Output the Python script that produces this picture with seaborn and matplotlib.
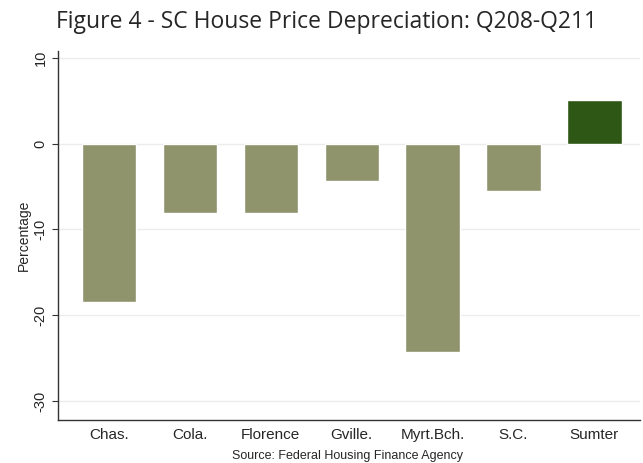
import matplotlib
matplotlib.use('Agg')
import matplotlib.pyplot as plt
import seaborn as sns
import pandas as pd

# data
areas = ['Chas.', 'Cola.', 'Florence', 'Gville.', 'Myrt.Bch.', 'S.C.', 'Sumter']
change = [-18.4, -8.1, -8.1, -4.4, -24.3, -5.5, 5.1]

df = pd.DataFrame({'area': areas, 'change': change})
colors = ['#8f946c'] * 6 + ['#2e5614']

sns.set_style('white')
plt.rcParams['font.family'] = ['Open Sans', 'DejaVu Sans']

fig = plt.figure(figsize=(6.43, 4.63), dpi=100)
ax = fig.add_axes([0.090, 0.093, 0.905, 0.797])
sns.barplot(x='area', y='change', data=df, hue='area', palette=colors,
            legend=False, width=0.67, saturation=1, ax=ax)

ax.set_ylim(-32.2, 10.8)
ax.set_xlim(-0.63, 6.56)
ax.set_yticks([10, 0, -10, -20, -30])
ax.set_yticklabels(['10', '0', '-10', '-20', '-30'], rotation=90, va='center',
                   fontsize=10.5, family='Liberation Sans')
ax.tick_params(axis='y', length=4, width=0.8, color='#333333', left=True)
ax.tick_params(axis='x', length=0, labelsize=11, pad=6)
for lab in ax.get_xticklabels():
    lab.set_family('Liberation Sans')
ax.yaxis.grid(True, color='#ececec', linewidth=1)
ax.set_axisbelow(True)
for s in ['top', 'right']:
    ax.spines[s].set_visible(False)
ax.spines['left'].set_color('#333333')
ax.spines['bottom'].set_color('#333333')
ax.spines['left'].set_linewidth(1)
ax.spines['bottom'].set_linewidth(1)

ax.set_xlabel('')
ax.set_ylabel('Percentage', fontsize=10, family='Liberation Sans', labelpad=2)
fig.text(0.508, 0.952, 'Figure 4 - SC House Price Depreciation: Q208-Q211',
         ha='center', va='center', fontsize=16.5)
fig.text(0.54, 0.016, 'Source: Federal Housing Finance Agency', ha='center',
         va='center', fontsize=9, family='Liberation Sans')

fig.savefig('out.png', dpi=100)
